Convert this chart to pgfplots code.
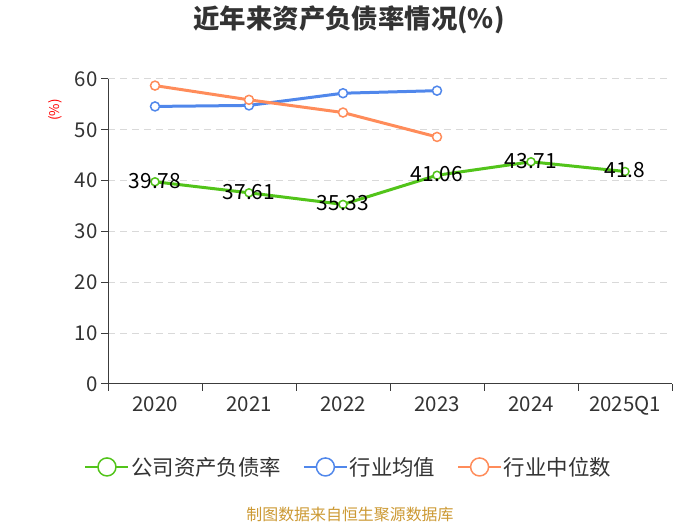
\documentclass[border=0pt]{standalone}
\usepackage{pgfplots}
\pgfplotsset{compat=1.18}
\usepackage{fontspec}
\setmainfont{Noto Sans CJK SC}
\definecolor{cgreen}{RGB}{82,196,26}
\definecolor{cblue}{RGB}{80,135,235}
\definecolor{corange}{RGB}{255,140,90}
\definecolor{tickgray}{RGB}{51,51,51}
\definecolor{axisgray}{RGB}{60,60,60}
\definecolor{srcgold}{RGB}{204,153,51}
\begin{document}
\begin{tikzpicture}[x=1bp,y=1bp]
\path[use as bounding box] (0,0) rectangle (700,525);
\node[font=\fontsize{26.5}{30}\selectfont\bfseries, text=tickgray] at (349,505) {近年来资产负债率情况(\%)};
\node[rotate=90, text=red, font=\fontsize{13.5}{15}\selectfont] at (55,415) {(\%)};
\node[text=srcgold, font=\fontsize{16}{18}\selectfont] at (350,10) {制图数据来自恒生聚源数据库};
\begin{axis}[
  at={(108bp,141bp)}, anchor=south west, scale only axis,
  width=564bp, height=305bp,
  xmin=-0.5, xmax=5.5, ymin=0, ymax=60,
  xtick={0,...,5}, xticklabels={2020,2021,2022,2023,2024,2025Q1},
  minor xtick={-0.5,0.5,...,5.5},
  ytick={0,10,...,60},
  axis x line*=bottom, axis y line*=left,
  axis line style={-, draw=axisgray, line width=1bp},
  tick align=outside,
  major tick length=7bp, minor tick length=7bp,
  major x tick style={draw=none},
  minor x tick style={draw=axisgray, line width=1bp},
  major y tick style={draw=axisgray, line width=1bp},
  ymajorgrids,
  grid style={draw=gray!30, line width=1bp, dash pattern=on 7bp off 5bp},
  tick label style={font=\fontsize{20.5}{24}\selectfont, text=tickgray},
  /pgf/number format/assume math mode=true,
  xticklabel style={yshift=-2bp},
  legend style={at={(0.427,-0.272)}, anchor=center, draw=none, fill=none,
    font=\fontsize{21.5}{24}\selectfont, text=tickgray,
    /tikz/every even column/.append style={column sep=20bp}},
  legend columns=3,
  legend image code/.code={
    \draw[#1, line width=1.5bp] (0bp,0bp)--(43bp,0bp);
    \draw[#1, fill=white, line width=1.5bp] (21.5bp,0bp) circle (9bp);
  },
]
\addlegendimage{cgreen}
\addlegendentry{公司资产负债率}
\addlegendimage{cblue}
\addlegendentry{行业均值}
\addlegendimage{corange}
\addlegendentry{行业中位数}

\addplot[forget plot, cblue, line width=3bp, mark=*, mark size=4.5bp,
  mark options={fill=white, draw=cblue, line width=1.5bp}]
  coordinates {(0,54.6) (1,54.8) (2,57.2) (3,57.7)};
\addplot[forget plot, corange, line width=3bp, mark=*, mark size=4.5bp,
  mark options={fill=white, draw=corange, line width=1.5bp}]
  coordinates {(0,58.7) (1,55.9) (2,53.4) (3,48.6)};
\addplot[forget plot, cgreen, line width=3bp, mark=*, mark size=4bp,
  mark options={fill=white, draw=cgreen, line width=1.5bp},
  nodes near coords, point meta=explicit symbolic,
  every node near coord/.style={anchor=center, yshift=1bp, text=black, font=\fontsize{21}{24}\selectfont}]
  coordinates {(0,39.78) [39.78] (1,37.61) [37.61] (2,35.33) [35.33] (3,41.06) [41.06] (4,43.71) [43.71] (5,41.8) [41.8]};
\end{axis}
\end{tikzpicture}
\end{document}
